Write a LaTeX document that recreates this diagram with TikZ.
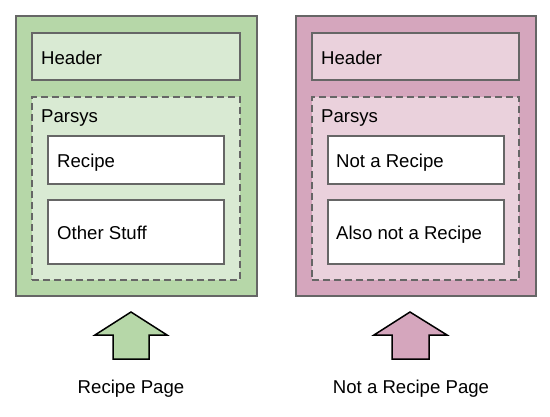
\documentclass[tikz,border=0pt]{standalone}
\usepackage{fontspec}
\setmainfont{Liberation Sans}
\definecolor{gdark}{HTML}{B6D7A8}
\definecolor{glight}{HTML}{D9EAD3}
\definecolor{pdark}{HTML}{D5A6BD}
\definecolor{plight}{HTML}{EAD1DC}
\definecolor{bord}{HTML}{666666}
\begin{document}
\begin{tikzpicture}[x=1pt,y=-1pt,
  boxbase/.style={draw=bord, line width=1.6pt, inner sep=0pt, anchor=north west},
  dashbox/.style={boxbase, dash pattern=on 7pt off 4pt},
  lab/.style={inner sep=0pt, anchor=base west, font=\fontsize{18.6}{22}\selectfont},
  biglab/.style={inner sep=0pt, anchor=base, font=\fontsize{18.6}{22}\selectfont},
  uparrow/.style={draw=black, line width=1.5pt, line join=miter}]
\useasboundingbox (0,0) rectangle (550,416);
% left panel
\node[boxbase, fill=gdark, minimum width=241pt, minimum height=280pt] (gout) at (15,15) {};
\node[boxbase, fill=glight, minimum width=208pt, minimum height=47pt] (ghead) at (31,32) {};
\node[dashbox, fill=glight, minimum width=208pt, minimum height=183pt] (gpar) at (31,96) {};
\node[boxbase, fill=white, minimum width=176pt, minimum height=48pt] (grec) at (47,135) {};
\node[boxbase, fill=white, minimum width=176pt, minimum height=64pt] (goth) at (47,199) {};
\node[lab] (tgh) at (41,64) {Header};
\node[lab] (tgp) at (41,122) {Parsys};
\node[lab] (tgr) at (57,167) {Recipe};
\node[lab] (tgo) at (57,239) {Other Stuff};
% right panel
\node[boxbase, fill=pdark, minimum width=240pt, minimum height=280pt] (pout) at (295,15) {};
\node[boxbase, fill=plight, minimum width=207pt, minimum height=47pt] (phead) at (311,32) {};
\node[dashbox, fill=plight, minimum width=207pt, minimum height=183pt] (ppar) at (311,96) {};
\node[boxbase, fill=white, minimum width=176pt, minimum height=48pt] (prec) at (327,135) {};
\node[boxbase, fill=white, minimum width=176pt, minimum height=64pt] (poth) at (327,199) {};
\node[lab] (tph) at (321,64) {Header};
\node[lab] (tpp) at (321,122) {Parsys};
\node[lab] (tpr) at (336,167) {Not a Recipe};
\node[lab] (tpo) at (336,239) {Also not a Recipe};
% arrows
\draw[uparrow, fill=gdark] (131,312) -- (167,335) -- (149,335) -- (149,359) -- (113,359) -- (113,335) -- (95,335) -- cycle;
\draw[uparrow, fill=pdark] (410,312) -- (447,335) -- (429,335) -- (429,359) -- (392,359) -- (392,335) -- (374,335) -- cycle;
\node[biglab] (lg) at (131,393) {Recipe Page};
\node[biglab] (lp) at (411,393) {Not a Recipe Page};
\end{tikzpicture}
\end{document}
